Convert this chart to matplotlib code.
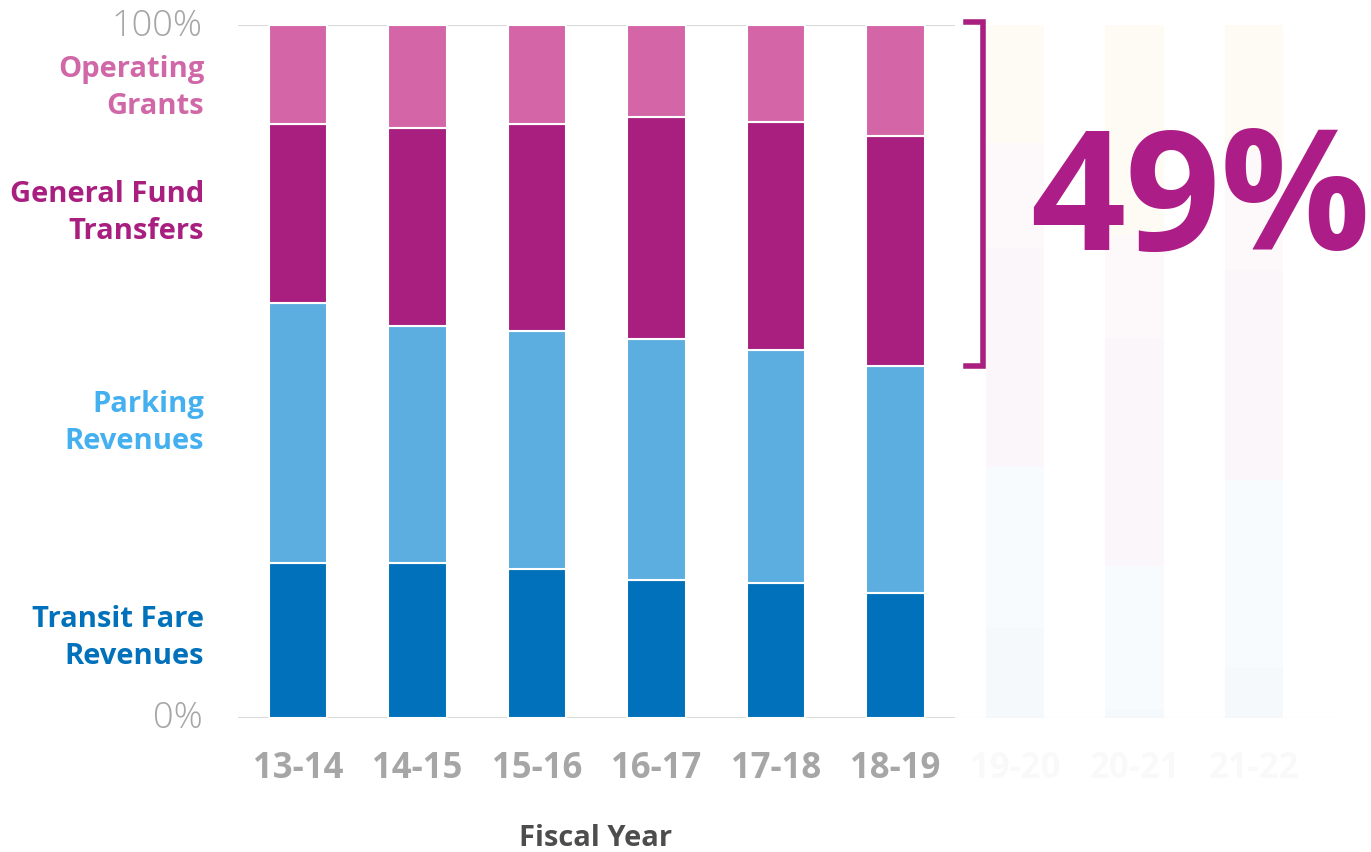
import matplotlib
matplotlib.use("Agg")
import matplotlib.pyplot as plt
import numpy as np

# data (percent of operating revenue)
years = ["13-14", "14-15", "15-16", "16-17", "17-18", "18-19", "19-20", "20-21", "21-22"]
transit_fare = [22.4, 22.4, 21.5, 19.9, 19.5, 18.0, 13.0, 1.3, 7.2]
parking = [37.5, 34.2, 34.3, 34.8, 33.6, 32.8, 23.2, 20.6, 27.1]
general_fund = [25.8, 28.5, 29.9, 32.0, 32.9, 33.2, 31.6, 32.9, 30.3]
operating_grants = [14.3, 14.9, 14.3, 13.3, 14.0, 16.0, 15.2, 14.9, 17.1]
relief_funds = [0, 0, 0, 0, 0, 0, 17.0, 30.3, 18.3]
n_shown = 6  # years drawn at full strength; the rest are faded

series = [
    ("Transit Fare\nRevenues", transit_fare, "#0071BA", "#0071BA"),
    ("Parking\nRevenues", parking, "#5DAEE0", "#45B0F0"),
    ("General Fund\nTransfers", general_fund, "#A81F80", "#A81F80"),
    ("Operating\nGrants", operating_grants, "#D466A8", "#D067A6"),
    ("Relief", relief_funds, "#F39C12", None),
]
label_y = [11.5, 42.6, 72.9, 90.9]

plt.rcParams["font.family"] = ["Open Sans", "DejaVu Sans"]

fig = plt.figure(figsize=(13.71, 8.52), dpi=100)
ax = fig.add_axes([238 / 1371, 134 / 852, 1 - 238 / 1371, 693 / 852])
x = np.arange(len(years))
ax.set_xlim(-0.502, 8.979)
ax.set_ylim(0, 100)

bottom = np.zeros(len(years))
for name, vals, col, _ in series:
    vals = np.array(vals, dtype=float)
    for i in range(len(years)):
        if vals[i] <= 0:
            continue
        ax.bar(x[i], vals[i], bottom=bottom[i], width=0.49, color=col,
               alpha=1.0 if i < n_shown else 0.04, edgecolor="white", linewidth=1.5)
    bottom += vals

# baseline and top gridline
ax.hlines([0, 100], -0.502, n_shown - 0.5, color="#DADADA", lw=1.5, zorder=0)
ax.hlines(0, n_shown - 0.5, len(years) - 0.3, color="#DADADA", lw=1.5, alpha=0.05, zorder=0)

for s in ax.spines.values():
    s.set_visible(False)
ax.set_yticks([])
ax.set_xticks([])

tick_col = "#A6A6A6"
for i, yr in enumerate(years):
    ax.text(x[i], -7.4, yr, ha="center", va="center", fontsize=25, fontweight="bold",
            color=tick_col, alpha=1.0 if i < n_shown else 0.06)

ax.text(2.49, -17.4, "Fiscal Year", ha="center", va="center", fontsize=21,
        fontweight="bold", color="#4D4D4D")

# y labels
fig.text(203 / 1371, 1 - 26 / 852, "100%", ha="right", va="center", fontsize=26,
         color=tick_col, fontweight="light")
fig.text(203 / 1371, 1 - 719 / 852, "0%", ha="right", va="center", fontsize=26,
         color=tick_col, fontweight="light")

# category labels
for (name, vals, col, lab_col), ly in zip(series[:4], label_y):
    ax.text(-0.785, ly, name, ha="right", va="center", fontsize=21, fontweight="bold",
            color=lab_col, linespacing=1.38, clip_on=False)

# bracket for latest shown year
i = n_shown - 1
low = transit_fare[i] + parking[i]
share = general_fund[i] + operating_grants[i]
bx, bt = 5.73, 5.59
ax.plot([bt, bx, bx, bt], [low, low, 100.4, 100.4], color="#A81F80", lw=4,
        solid_joinstyle="miter", clip_on=False)
ax.text(7.55, 73.8, f"{round(share)}%", ha="center", va="center", fontsize=120,
        fontweight="bold", color="#AD1D87")

fig.savefig("out.png", dpi=100)
